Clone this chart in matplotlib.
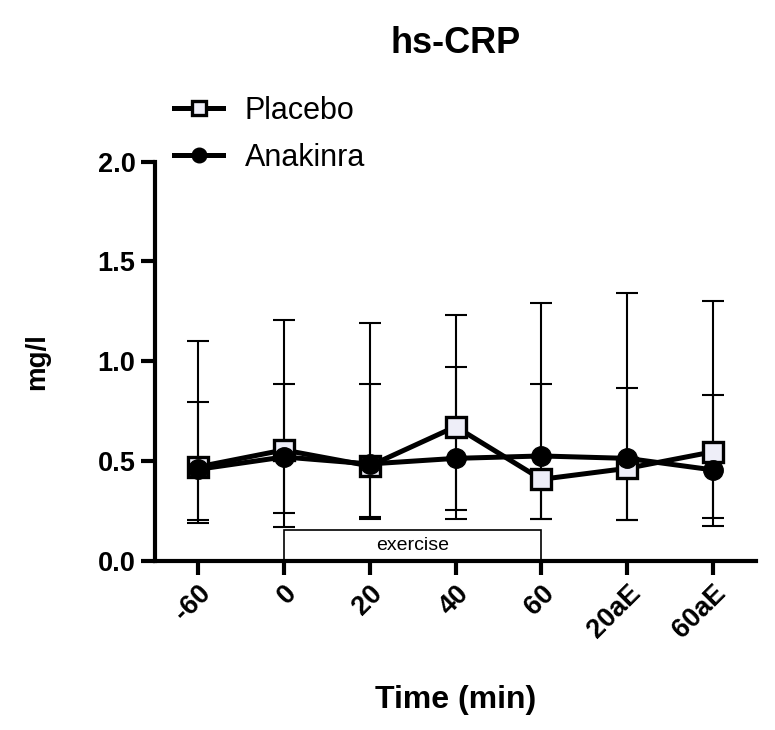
import matplotlib
matplotlib.use("Agg")
import matplotlib.pyplot as plt
import numpy as np
from matplotlib.patches import Rectangle

plt.rcParams['font.family'] = ['Liberation Sans', 'DejaVu Sans']

times = ['-60', '0', '20', '40', '60', '20aE', '60aE']
placebo_mean = [0.470, 0.555, 0.475, 0.672, 0.408, 0.463, 0.546]
anakinra_mean = [0.458, 0.520, 0.485, 0.513, 0.525, 0.513, 0.455]
placebo_upper = [1.100, 1.207, 1.193, 1.233, 1.290, 1.340, 1.300]
placebo_lower = [0.204, 0.238, 0.218, 0.254, 0.208, 0.204, 0.213]
anakinra_upper = [0.795, 0.886, 0.886, 0.969, 0.886, 0.864, 0.832]
anakinra_lower = [0.190, 0.170, 0.208, 0.211, 0.208, 0.204, 0.175]
exercise_start, exercise_end, exercise_height = 1, 4, 0.154

fig = plt.figure(figsize=(7.75, 7.3), dpi=100)
ax = fig.add_axes([0.2, 0.2319, 0.7755, 0.5466])

x = np.arange(len(times))
pm = np.array(placebo_mean); am = np.array(anakinra_mean)
ax.errorbar(x, pm, yerr=[pm - np.array(placebo_lower), np.array(placebo_upper) - pm],
            fmt='none', ecolor='black', elinewidth=1.5, capsize=8, capthick=1.5, zorder=2)
ax.errorbar(x, am, yerr=[am - np.array(anakinra_lower), np.array(anakinra_upper) - am],
            fmt='none', ecolor='black', elinewidth=1.5, capsize=8, capthick=1.5, zorder=2)

lp, = ax.plot(x, pm, '-', color='black', lw=3.6, marker='s', markersize=14,
              markerfacecolor='#eeeef8', markeredgecolor='black', markeredgewidth=2.4,
              zorder=4, label='Placebo')
la, = ax.plot(x, am, '-', color='black', lw=3.6, marker='o', markersize=14,
              markerfacecolor='black', markeredgecolor='black', zorder=5, label='Anakinra')

ax.add_patch(Rectangle((exercise_start, 0), exercise_end - exercise_start, exercise_height,
                       facecolor='white', edgecolor='black', lw=1.2, zorder=1.5))
ax.text((exercise_start + exercise_end) / 2, exercise_height / 2, 'exercise',
        ha='center', va='center', fontsize=14, zorder=3)

ax.set_xlim(-0.5, 6.5)
ax.set_ylim(0, 2.0)
ax.set_yticks([0.0, 0.5, 1.0, 1.5, 2.0])
ax.set_yticklabels(['0.0', '0.5', '1.0', '1.5', '2.0'])
ax.set_xticks(x)
ax.set_xticklabels(times, rotation=45, ha='right', rotation_mode='anchor')
for lab in ax.get_xticklabels() + ax.get_yticklabels():
    lab.set_fontweight('bold')
    lab.set_fontsize(19.5)

for s in ['top', 'right']:
    ax.spines[s].set_visible(False)
for s in ['left', 'bottom']:
    ax.spines[s].set_linewidth(3)
ax.tick_params(axis='both', length=10, width=3, pad=4)

ax.set_title('hs-CRP', fontsize=26, fontweight='bold', pad=78)
ax.set_xlabel('Time (min)', fontsize=23, fontweight='bold', labelpad=30)
ax.set_ylabel('mg/l', fontsize=20, fontweight='bold', labelpad=34)

leg = ax.legend(handles=[lp, la], loc='upper left', bbox_to_anchor=(0.209, 0.885),
                bbox_transform=fig.transFigure, frameon=False, fontsize=22,
                handlelength=1.6, markerscale=0.75, labelspacing=0.55, handletextpad=0.7,
                borderaxespad=0)

fig.savefig('out.png', dpi=100)
